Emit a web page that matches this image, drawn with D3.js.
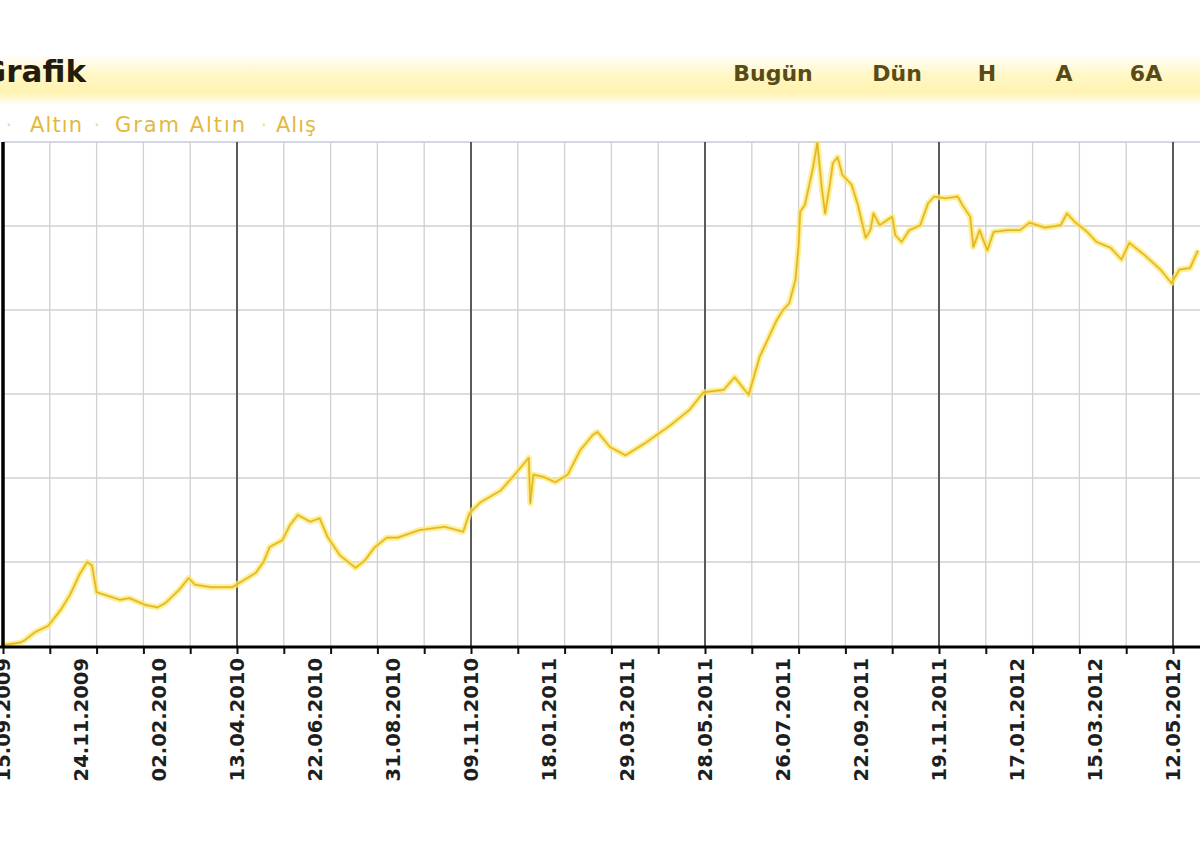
<!DOCTYPE html>
<html><head><meta charset="utf-8">
<script src="https://cdn.jsdelivr.net/npm/d3@7/dist/d3.min.js"></script>
<style>html,body{margin:0;padding:0;background:#fff;overflow:hidden}</style>
</head><body>
<svg id="c" width="1200" height="858"></svg>
<script>
// ---- data ----
const title = "Grafik";
const tabs = ["Bugün", "Dün", "H", "A", "6A"];
const legendParts = ["Altın", "Gram Altın", "Alış"];
const dateLabels = ["15.09.2009","24.11.2009","02.02.2010","13.04.2010","22.06.2010","31.08.2010","09.11.2010","18.01.2011","29.03.2011","28.05.2011","26.07.2011","22.09.2011","19.11.2011","17.01.2012","15.03.2012","12.05.2012"];
// trading-day index since 15.09.2009
const dayIndex = [0,11,14,21,29,37,43,49,54,57,60,65,75,81,91,99,104,113,119,123,133,147,162,167,171,179,184,189,197,203,208,216,226,232,238,246,253,267,283,295,299,306,319,328,337,338,340,347,354,362,370,378,381,389,399,412,428,440,449,462,469,478,485,496,500,504,508,510,511,514,519,522,525,527,530,532,535,538,544,548,553,556,558,562,570,572,576,581,588,593,597,604,612,615,620,622,626,631,635,644,652,658,668,678,682,687,695,701,710,717,722,732,742,749,754,761,766];
// gram gold price (TL)
const price = [45.1,45.4,45.7,46.7,47.4,49.3,51.1,53.5,55.0,54.6,51.4,51.1,50.5,50.7,49.9,49.6,50.1,51.7,53.1,52.3,52.0,52.0,53.7,55.0,56.8,57.6,59.4,60.6,59.8,60.2,58.0,55.8,54.3,55.2,56.7,57.9,57.9,58.8,59.2,58.6,60.8,62.1,63.5,65.4,67.4,62.0,65.4,65.1,64.5,65.4,68.3,70.1,70.5,68.7,67.7,69.2,71.3,73.1,75.2,75.5,77.0,74.9,79.4,83.8,85.0,85.8,88.6,92.7,96.7,97.5,101.7,104.9,99.3,96.5,99.9,102.5,103.2,101.1,99.9,97.5,93.6,94.5,96.5,95.1,96.1,93.9,93.1,94.5,95.1,97.7,98.5,98.3,98.5,97.5,96.1,92.5,94.5,92.1,94.3,94.5,94.5,95.4,94.8,95.1,96.5,95.5,94.3,93.1,92.4,91.0,93.0,91.5,89.8,88.2,89.8,90.0,92.1];
const yTicks = [45,55,65,75,85,95,105];

// ---- drawing ----
(function(){
const svg = d3.select("#c");
const W = 1200, plotTop = 142, plotBottom = 646, plotLeft = 3;
const x = d3.scaleLinear().domain([0, 768]).range([plotLeft, plotLeft + 768 * 1.56]);
const y = d3.scaleLinear().domain([45, 105]).range([plotBottom, plotTop]);

// header band
const defs = svg.append("defs");
const g1 = defs.append("linearGradient").attr("id","band").attr("x1",0).attr("y1",0).attr("x2",0).attr("y2",1);
g1.append("stop").attr("offset","0%").attr("stop-color","#ffffff");
g1.append("stop").attr("offset","40%").attr("stop-color","#fff7c8");
g1.append("stop").attr("offset","75%").attr("stop-color","#fff3b0");
g1.append("stop").attr("offset","100%").attr("stop-color","#fffdf2");
svg.append("rect").attr("x",0).attr("y",54).attr("width",W).attr("height",50).attr("fill","url(#band)");

svg.append("text").attr("x",86).attr("y",82).attr("text-anchor","end")
  .attr("font-family","DejaVu Sans").attr("font-weight","bold").attr("font-size",31)
  .attr("fill","#231c0c").text(title);

const tabX = [773, 897, 987, 1064, 1146];
svg.selectAll("text.tab").data(tabs).join("text").attr("class","tab")
  .attr("x",(d,i)=>tabX[i]).attr("y",81).attr("text-anchor","middle")
  .attr("font-family","DejaVu Sans").attr("font-weight","bold").attr("font-size",22)
  .attr("fill","#5a4a14").text(d=>d);

// legend / breadcrumb
const legX = [30, 115, 276], legW = [52, 130, 40], dotX = [9, 97, 264];
svg.selectAll("text.dot").data(dotX).join("text").attr("class","dot")
  .attr("x",d=>d).attr("y",132).attr("text-anchor","middle")
  .attr("font-family","DejaVu Sans").attr("font-size",20).attr("fill","#f0dc9a").text("·");
svg.selectAll("text.leg").data(legendParts).join("text").attr("class","leg")
  .attr("x",(d,i)=>legX[i]).attr("y",132)
  .attr("textLength",(d,i)=>legW[i]).attr("lengthAdjust","spacing")
  .attr("font-family","DejaVu Sans").attr("font-size",21).attr("fill","#e4b83e").text(d=>d);

// clip
defs.append("clipPath").attr("id","plot").append("rect")
  .attr("x",plotLeft).attr("y",plotTop).attr("width",W-plotLeft).attr("height",plotBottom-plotTop);

// horizontal grid
svg.append("g").selectAll("line").data(yTicks.slice(1,-1)).join("line")
  .attr("x1",plotLeft).attr("x2",W).attr("y1",d=>y(d)).attr("y2",d=>y(d))
  .attr("stroke","#b9b9b9").attr("stroke-width",1.2);
// top border
svg.append("line").attr("x1",plotLeft).attr("x2",W).attr("y1",plotTop).attr("y2",plotTop)
  .attr("stroke","#aab0c8").attr("stroke-width",1.2);

// vertical grid
const vt = d3.range(0, 769, 30);
svg.append("g").selectAll("line").data(vt).join("line")
  .attr("x1",d=>x(d)).attr("x2",d=>x(d)).attr("y1",plotTop).attr("y2",plotBottom)
  .attr("stroke",d=> d % 150 === 0 && d>0 ? "#5a5a5a" : "#cfcfd4")
  .attr("stroke-width",d=> d % 150 === 0 && d>0 ? 2 : 1.3);

// line
const line = d3.line().x((d,i)=>x(dayIndex[i])).y(d=>y(d)).curve(d3.curveLinear);
const pg = svg.append("g").attr("clip-path","url(#plot)");
pg.append("path").datum(price).attr("d",line).attr("fill","none")
  .attr("stroke","#fbe96e").attr("stroke-width",6).attr("stroke-opacity",0.7).attr("stroke-linejoin","round");
pg.append("path").datum(price).attr("d",line).attr("fill","none")
  .attr("stroke","#f3cc3a").attr("stroke-width",2.2).attr("stroke-linejoin","round");
pg.append("path").datum(price).attr("d",line).attr("fill","none")
  .attr("stroke","#c9922a").attr("stroke-width",1).attr("stroke-opacity",0.5).attr("stroke-linejoin","round");

// axes
svg.append("line").attr("x1",plotLeft).attr("x2",plotLeft).attr("y1",plotTop).attr("y2",plotBottom+2)
  .attr("stroke","#000").attr("stroke-width",3.5);
const xAxis = d3.axisBottom(x).tickValues(vt).tickSize(7).tickFormat("");
const ax = svg.append("g").attr("transform",`translate(0,${plotBottom+1})`).call(xAxis);
ax.select(".domain").remove();
ax.selectAll(".tick line").attr("stroke","#111").attr("stroke-width",2);
svg.append("line").attr("x1",0).attr("x2",W).attr("y1",plotBottom+1).attr("y2",plotBottom+1)
  .attr("stroke","#000").attr("stroke-width",3);

// date labels
svg.append("g").selectAll("text").data(dateLabels).join("text")
  .attr("transform",(d,i)=>`translate(${x(i*50)},658) rotate(-90)`)
  .attr("text-anchor","end").attr("dy","0.36em")
  .attr("font-family","DejaVu Sans").attr("font-weight","bold").attr("font-size",19.5)
  .attr("fill","#1e1e1e").text(d=>d);
})();
</script>
</body></html>
